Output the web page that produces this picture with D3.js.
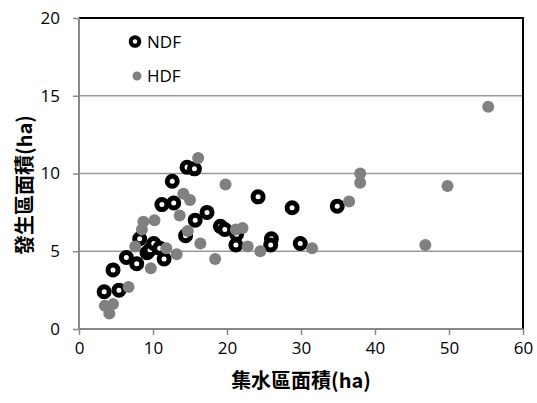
<!DOCTYPE html>
<html>
<head>
<meta charset="utf-8">
<script src="https://cdn.jsdelivr.net/npm/d3@7"></script>
<style>
  html, body { margin: 0; padding: 0; background: #fff; }
  svg { display: block; }
  text { font-family: "Open Sans", "Noto Sans", sans-serif; }
</style>
</head>
<body>
<svg id="chart" width="537" height="403"></svg>
<script>
// Catchment area (ha) vs. occurrence area (ha)
const ndfX = [3.4, 5.4, 4.6, 6.4, 7.8, 8.2, 9.2, 9.6, 10.1, 10.9, 11.5, 11.2, 12.8, 12.6, 14.6, 15.6, 14.4, 15.7, 17.3, 19.1, 19.7, 21.2, 21.3, 24.2, 26.0, 25.9, 29.9, 28.8, 34.9];
const ndfY = [2.4, 2.5, 3.8, 4.6, 4.2, 5.8, 4.9, 5.1, 5.5, 5.2, 4.5, 8.0, 8.1, 9.5, 10.4, 10.3, 6.0, 7.0, 7.5, 6.6, 6.4, 5.4, 6.1, 8.5, 5.8, 5.4, 5.5, 7.8, 7.9];

const hdfX = [3.5, 4.6, 4.1, 6.7, 7.6, 8.5, 8.7, 10.2, 9.7, 11.8, 13.2, 13.6, 14.1, 15.0, 14.7, 16.1, 16.4, 18.4, 19.8, 21.2, 22.1, 22.8, 24.5, 31.5, 36.5, 38.0, 38.0, 46.8, 49.8, 55.3];
const hdfY = [1.5, 1.6, 1.0, 2.7, 5.3, 6.4, 6.9, 7.0, 3.9, 5.2, 4.8, 7.3, 8.7, 8.3, 6.3, 11.0, 5.5, 4.5, 9.3, 6.4, 6.5, 5.3, 5.0, 5.2, 8.2, 10.0, 9.4, 5.4, 9.2, 14.3];

const xTicks = [0, 10, 20, 30, 40, 50, 60];
const yTicks = [0, 5, 10, 15, 20];
const seriesNames = ["NDF", "HDF"];
const xTitle = "集水區面積(ha)";
const yTitle = "發生區面積(ha)";

const svg = d3.select("#chart");
const m = { left: 79, right: 523, top: 18, bottom: 329 };

const x = d3.scaleLinear().domain([0, 60]).range([m.left, m.right]);
const y = d3.scaleLinear().domain([0, 20]).range([m.bottom, m.top]);

// gridlines
svg.append("g")
  .selectAll("line")
  .data(yTicks.filter(d => d > 0 && d < 20))
  .join("line")
  .attr("x1", m.left).attr("x2", m.right)
  .attr("y1", d => y(d)).attr("y2", d => y(d))
  .attr("stroke", "#999").attr("stroke-width", 1.5);

// plot-area border (top and right)
svg.append("path")
  .attr("d", `M${m.left},${m.top}H${m.right}V${m.bottom}`)
  .attr("fill", "none").attr("stroke", "#000").attr("stroke-width", 2);

// axes
const xAxis = svg.append("g")
  .attr("transform", `translate(0,${m.bottom})`)
  .call(d3.axisBottom(x).tickValues(xTicks).tickSize(6).tickPadding(7).tickFormat(d3.format("d")));
const yAxis = svg.append("g")
  .attr("transform", `translate(${m.left},0)`)
  .call(d3.axisLeft(y).tickValues(yTicks).tickSize(6).tickPadding(13).tickFormat(d3.format("d")));

[xAxis, yAxis].forEach(g => {
  g.select(".domain").attr("stroke", "#888").attr("stroke-width", 2);
  g.selectAll(".tick line").attr("stroke", "#888").attr("stroke-width", 1.5);
  g.selectAll(".tick text")
    .attr("fill", "#000")
    .style("font-size", "17px")
    .style("font-family", "'Open Sans', 'Noto Sans', sans-serif");
});
yAxis.select(".domain").attr("d", `M0,${m.bottom}V${m.top}`);
xAxis.select(".domain").attr("d", `M${m.left},0H${m.right}`);

// NDF: open black rings
svg.append("g")
  .selectAll("circle")
  .data(ndfX.map((v, i) => [v, ndfY[i]]))
  .join("circle")
  .attr("cx", d => x(d[0])).attr("cy", d => y(d[1]))
  .attr("r", 5)
  .attr("fill", "#fff").attr("stroke", "#000").attr("stroke-width", 5);

// HDF: filled gray dots
svg.append("g")
  .selectAll("circle")
  .data(hdfX.map((v, i) => [v, hdfY[i]]))
  .join("circle")
  .attr("cx", d => x(d[0])).attr("cy", d => y(d[1]))
  .attr("r", 6)
  .attr("fill", "#808080");

// legend
const legend = svg.append("g");
legend.append("circle").attr("cx", 135).attr("cy", 41.5).attr("r", 4.3)
  .attr("fill", "#fff").attr("stroke", "#000").attr("stroke-width", 4);
legend.append("circle").attr("cx", 137).attr("cy", 76).attr("r", 4.5).attr("fill", "#808080");
legend.selectAll("text.lg")
  .data(seriesNames)
  .join("text")
  .attr("class", "lg")
  .attr("x", 147).attr("y", (d, i) => i === 0 ? 47.5 : 82)
  .style("font-size", "17px")
  .attr("fill", "#000")
  .text(d => d);

// axis titles
svg.append("text")
  .attr("x", (m.left + m.right) / 2).attr("y", 388)
  .attr("text-anchor", "middle")
  .style("font-family", "'Noto Sans CJK TC', 'Noto Sans CJK SC', sans-serif")
  .style("font-size", "20px").style("font-weight", "bold")
  .text(xTitle);
svg.append("text")
  .attr("transform", "translate(32,185) rotate(-90)")
  .attr("text-anchor", "middle")
  .style("font-family", "'Noto Sans CJK TC', 'Noto Sans CJK SC', sans-serif")
  .style("font-size", "20px").style("font-weight", "bold")
  .text(yTitle);
</script>
</body>
</html>
